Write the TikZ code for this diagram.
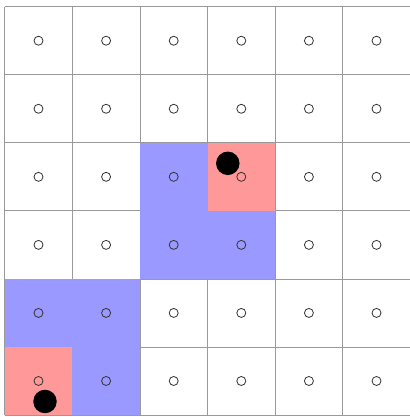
\documentclass[tikz,border=0pt]{standalone}
\usetikzlibrary{calc}
\definecolor{gridgray}{HTML}{999999}
\definecolor{cellblue}{HTML}{9999FF}
\definecolor{cellred}{HTML}{FF9999}
\definecolor{ringgray}{HTML}{333333}
\tikzset{
  gridline/.style={draw=gridgray, line width=0.8pt},
  bluecell/.style={fill=cellblue, draw=none},
  redcell/.style={fill=cellred, draw=none},
  ring/.style={circle, draw=ringgray, line width=0.8pt, minimum size=9pt, inner sep=0pt},
  token/.style={circle, fill=black, minimum size=23.5pt, inner sep=0pt}
}
\begin{document}
\begin{tikzpicture}[x=1pt,y=-1pt]
\useasboundingbox (0,0) rectangle (409,417);
\fill[white] (0,0) rectangle (409,417);
\def\xo{4.7}\def\yo{6.7}\def\cw{67.6}\def\ch{68.05}
% grid
\foreach \i in {0,...,6} {
  \draw[gridline] ({\xo+\i*\cw},\yo) -- ({\xo+\i*\cw},{\yo+6*\ch});
  \draw[gridline] (\xo,{\yo+\i*\ch}) -- ({\xo+6*\cw},{\yo+\i*\ch});
}
% coloured cells (col,row)
\foreach \c/\r in {2/2,2/3,3/3,0/4,1/4,1/5}
  \fill[bluecell] ({\xo+\c*\cw},{\yo+\r*\ch}) rectangle ({\xo+(\c+1)*\cw},{\yo+(\r+1)*\ch});
\foreach \c/\r in {3/2,0/5}
  \fill[redcell] ({\xo+\c*\cw},{\yo+\r*\ch}) rectangle ({\xo+(\c+1)*\cw},{\yo+(\r+1)*\ch});
% cell markers
\foreach \c in {0,...,5}
  \foreach \r in {0,...,5}
    \node[ring] (m\c\r) at ({\xo+(\c+0.5)*\cw},{\yo+(\r+0.5)*\ch}) {};
% tokens
\node[token] (t1) at ($(m32)+(-13.5,-13.5)$) {};
\node[token] (t2) at ($(m05)+(6.5,20.5)$) {};
\end{tikzpicture}
\end{document}
